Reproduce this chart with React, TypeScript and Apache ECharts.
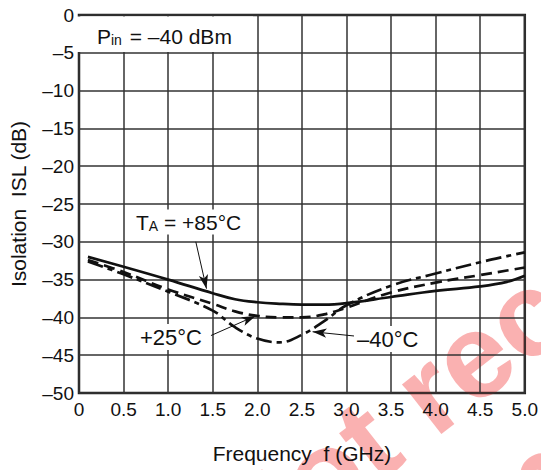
import React, { useEffect, useRef } from "react";
import * as echarts from "echarts";

const freq = [0.1, 0.5, 1.0, 1.5, 1.75, 2.0, 2.25, 2.5, 2.75, 3.0, 3.5, 4.0, 4.5, 4.8, 5.0];
const isl85 = [-32.0, -33.3, -35.0, -36.8, -37.6, -38.0, -38.2, -38.3, -38.3, -38.1, -37.3, -36.5, -35.9, -35.3, -34.5];
const isl25 = [-32.4, -34.0, -36.3, -38.2, -39.2, -39.8, -40.0, -40.0, -39.6, -38.7, -36.7, -35.4, -34.4, -33.8, -33.4];
const islM40 = [-32.6, -34.3, -36.6, -39.1, -41.3, -42.8, -43.3, -42.3, -40.5, -38.4, -35.8, -34.2, -32.7, -31.9, -31.4];

const xTicks = ["0", "0.5", "1.0", "1.5", "2.0", "2.5", "3.0", "3.5", "4.0", "4.5", "5.0"];
const yTicks = ["0", "–5", "–10", "–15", "–20", "–25", "–30", "–35", "–40", "–45", "–50"];

const FONT = "Liberation Sans";
const INK = "#111";

const pairs = (ys: number[]) => freq.map((x, i) => [x, ys[i]]);

export default function App() {
  const ref = useRef<HTMLDivElement>(null);
  useEffect(() => {
    if (!ref.current) return;
    const chart = echarts.init(ref.current, undefined, { renderer: "svg" });
    const lineBase = { color: INK, width: 2.7 };
    const arrowLine = {
      symbol: ["none", "arrow"],
      symbolSize: [7, 14],
      silent: true,
      label: { show: false },
      lineStyle: { color: INK, width: 1, type: "solid" as const },
    };
    const deg = (38 * Math.PI) / 180;
    const wmStyle = {
      fontSize: 120,
      fontWeight: "bold",
      fontFamily: FONT,
      fill: "rgba(240,40,40,0.36)",
      align: "left",
      verticalAlign: "bottom",
      textAlign: "left",
      textVerticalAlign: "bottom",
    };
    const lbl = { fontSize: 21, fontFamily: FONT, fill: INK, color: INK };
    const sub = { fontSize: 14, fontFamily: FONT, fill: INK, color: INK, verticalAlign: "bottom" };
    chart.setOption({
      animation: false,
      backgroundColor: "#fff",
      grid: {
        left: 73,
        right: 15,
        top: 15,
        bottom: 77,
        show: true,
        borderColor: "#222",
        borderWidth: 2.5,
        backgroundColor: "transparent",
      },
      xAxis: {
        type: "value",
        min: 0,
        max: 5,
        interval: 0.5,
        name: "Frequency  f (GHz)",
        nameLocation: "middle",
        nameGap: 50,
        nameTextStyle: { fontSize: 21, fontFamily: FONT, color: INK },
        axisLine: { show: false },
        axisTick: { show: false },
        axisLabel: {
          margin: 7,
          fontSize: 19,
          fontFamily: FONT,
          color: INK,
          formatter: (v: number) => xTicks[Math.round(v / 0.5)],
        },
        splitLine: { show: true, lineStyle: { color: "#333", width: 1.5 } },
      },
      yAxis: {
        type: "value",
        min: -50,
        max: 0,
        interval: 5,
        name: "Isolation  ISL (dB)",
        nameLocation: "middle",
        nameGap: 50,
        nameTextStyle: { fontSize: 21, fontFamily: FONT, color: INK },
        axisLine: { show: false },
        axisTick: { show: false },
        axisLabel: {
          margin: 5,
          fontSize: 19,
          fontFamily: FONT,
          color: INK,
          formatter: (v: number) => yTicks[Math.round(-v / 5)],
        },
        splitLine: { show: true, lineStyle: { color: "#333", width: 1.5 } },
      },
      series: [
        {
          type: "line",
          name: "+85°C",
          data: pairs(isl85),
          smooth: 0.4,
          symbol: "none",
          z: 5,
          lineStyle: { ...lineBase, type: "solid" },
          markLine: {
            ...arrowLine,
            data: [[{ coord: [1.31, -30.0] }, { coord: [1.43, -36.2] }]],
          },
        },
        {
          type: "line",
          name: "+25°C",
          data: pairs(isl25),
          smooth: 0.4,
          symbol: "none",
          z: 5,
          lineStyle: { ...lineBase, type: [11, 6] },
          markLine: {
            ...arrowLine,
            data: [[{ coord: [1.48, -42.4] }, { coord: [1.98, -39.8] }]],
          },
        },
        {
          type: "line",
          name: "–40°C",
          data: pairs(islM40),
          smooth: 0.4,
          symbol: "none",
          z: 5,
          lineStyle: { ...lineBase, type: [16, 5, 5, 5] },
          markLine: {
            ...arrowLine,
            data: [[{ coord: [3.12, -42.5] }, { coord: [2.62, -41.9] }]],
          },
        },
      ],
      graphic: [
        {
          type: "group",
          z: -10,
          silent: true,
          children: [
            {
              type: "text",
              x: 262,
              y: 597,
              rotation: deg,
              style: { ...wmStyle, text: "Not recommended" },
            },
            {
              type: "text",
              x: 392,
              y: 670,
              rotation: deg,
              style: { ...wmStyle, text: "for new designs" },
            },
          ],
        },
        {
          type: "rect",
          z: 3,
          shape: { x: 75, y: 16.5, width: 178, height: 35.5 },
          style: { fill: "#fff" },
        },
        {
          type: "text",
          z: 10,
          x: 97,
          y: 36,
          style: {
            text: "{a|P}{b|in}{a| = –40 dBm}",
            verticalAlign: "middle",
            textVerticalAlign: "middle",
            rich: { a: lbl, b: { ...sub, padding: [0, 2, 0, 0] } },
          },
        },
        {
          type: "text",
          z: 10,
          x: 133,
          y: 222,
          style: {
            text: "{a|T}{b|A}{a| = +85°C}",
            verticalAlign: "middle",
            textVerticalAlign: "middle",
            backgroundColor: "#fff",
            padding: [2, 3],
            rich: { a: lbl, b: sub },
          },
        },
        {
          type: "text",
          z: 10,
          x: 137,
          y: 337,
          style: {
            ...lbl,
            text: "+25°C",
            fontSize: 22,
            verticalAlign: "middle",
            textVerticalAlign: "middle",
            backgroundColor: "#fff",
            padding: [2, 3],
          },
        },
        {
          type: "text",
          z: 10,
          x: 354,
          y: 339,
          style: {
            ...lbl,
            text: "–40°C",
            fontSize: 22,
            verticalAlign: "middle",
            textVerticalAlign: "middle",
            backgroundColor: "#fff",
            padding: [2, 3],
          },
        },
      ],
    });
    return () => chart.dispose();
  }, []);
  return (
    <div
      ref={ref}
      style={{ position: "fixed", left: 0, top: 0, width: 541, height: 470 }}
    />
  );
}
